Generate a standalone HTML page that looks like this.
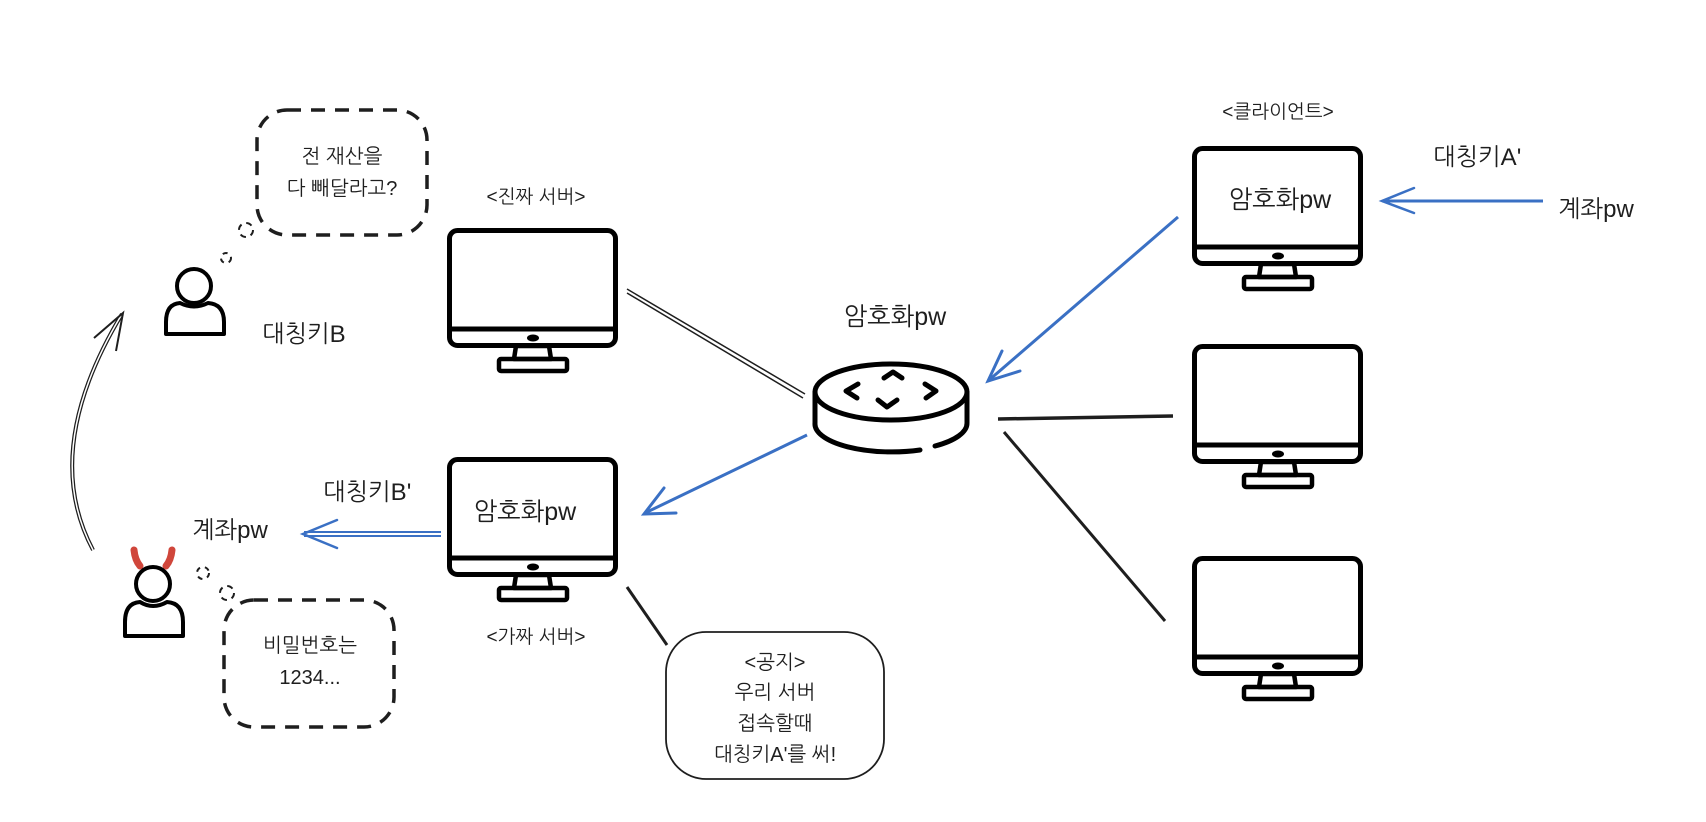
<!DOCTYPE html>
<html><head><meta charset="utf-8"><style>
html,body{margin:0;padding:0;background:#fff;}
svg{display:block;}
text{font-family:"Liberation Sans","NanumGothic","Noto Sans CJK KR",sans-serif;fill:#1e1e1e;}
</style></head><body>
<svg width="1706" height="822" viewBox="0 0 1706 822" xmlns="http://www.w3.org/2000/svg">
<defs>
<g id="mon">
  <rect x="2.5" y="2.5" width="166" height="115" rx="8" fill="#fff" stroke="#000" stroke-width="5"/>
  <line x1="2.5" y1="101" x2="168.5" y2="101" stroke="#000" stroke-width="5"/>
  <ellipse cx="86" cy="110" rx="6" ry="3.5" fill="#000"/>
  <path d="M69 118 L102 118 L104 131 L67 131 Z" fill="none" stroke="#000" stroke-width="4.5" stroke-linejoin="round"/>
  <rect x="52" y="131" width="68" height="12" rx="2" fill="none" stroke="#000" stroke-width="4.5"/>
</g>
</defs>

<rect x="257" y="110" width="170" height="125" rx="30" fill="none" stroke="#1e1e1e" stroke-width="3.5" stroke-dasharray="14 10"/>
<text x="342" y="163" font-size="20" text-anchor="middle">전 재산을</text>
<text x="342" y="195" font-size="20" text-anchor="middle">다 빼달라고?</text>
<circle cx="246" cy="230" r="7" fill="none" stroke="#1e1e1e" stroke-width="2" stroke-dasharray="6 5"/>
<circle cx="226" cy="258" r="5" fill="none" stroke="#1e1e1e" stroke-width="2" stroke-dasharray="5 5"/>

<circle cx="194" cy="286" r="17" fill="#fff" stroke="#000" stroke-width="4"/>
<path d="M166 334 L166 322 Q166 304 180 303 Q194 310 208 303 Q224 304 224 322 L224 334 Z" fill="none" stroke="#000" stroke-width="4" stroke-linejoin="round"/>
<text x="262" y="342" font-size="24">대칭키B</text>

<path d="M93 550 Q40 450 122 314" fill="none" stroke="#1e1e1e" stroke-width="4"/>
<path d="M93 550 Q40 450 122 314" fill="none" stroke="#fff" stroke-width="1.5"/>
<path d="M94 338 L123 313 L116 351" fill="none" stroke="#1e1e1e" stroke-width="2"/>

<path d="M134 550 Q135 560 140 566" stroke="#d0463b" stroke-width="7" fill="none" stroke-linecap="round"/>
<path d="M172 550 Q171 560 166 566" stroke="#d0463b" stroke-width="7" fill="none" stroke-linecap="round"/>
<circle cx="153" cy="584" r="17" fill="#fff" stroke="#000" stroke-width="4"/>
<path d="M125 636 L125 622 Q125 603 140 602 Q153 610 167 602 Q183 603 183 622 L183 636 Z" fill="none" stroke="#000" stroke-width="4" stroke-linejoin="round"/>
<circle cx="203" cy="573" r="6" fill="none" stroke="#1e1e1e" stroke-width="2" stroke-dasharray="5 5"/>
<circle cx="227" cy="593" r="7" fill="none" stroke="#1e1e1e" stroke-width="2" stroke-dasharray="6 5"/>

<rect x="224" y="600" width="170" height="127" rx="30" fill="none" stroke="#1e1e1e" stroke-width="3.5" stroke-dasharray="14 10"/>
<text x="310" y="652" font-size="20" text-anchor="middle">비밀번호는</text>
<text x="310" y="684" font-size="20" text-anchor="middle">1234...</text>

<text x="323" y="500" font-size="24">대칭키B'</text>
<text x="192" y="538" font-size="24">계좌pw</text>
<line x1="441" y1="532" x2="304" y2="532" stroke="#3a70c4" stroke-width="2"/>
<line x1="441" y1="536" x2="304" y2="536" stroke="#3a70c4" stroke-width="2"/>
<path d="M337 520 L303 534 L337 548" fill="none" stroke="#3a70c4" stroke-width="2.5" stroke-linecap="round"/>

<text x="536" y="203" font-size="19" text-anchor="middle">&lt;진짜 서버&gt;</text>
<use href="#mon" x="447" y="228"/>
<use href="#mon" x="447" y="457"/>
<text x="525" y="520" font-size="25" text-anchor="middle">암호화pw</text>
<text x="536" y="643" font-size="19" text-anchor="middle">&lt;가짜 서버&gt;</text>

<line x1="627" y1="587" x2="667" y2="645" stroke="#1e1e1e" stroke-width="3"/>
<rect x="666" y="632" width="218" height="147" rx="40" fill="none" stroke="#1e1e1e" stroke-width="1.8"/>
<text x="775" y="669" font-size="20" text-anchor="middle">&lt;공지&gt;</text>
<text x="775" y="699" font-size="20" text-anchor="middle">우리 서버</text>
<text x="775" y="730" font-size="20" text-anchor="middle">접속할때</text>
<text x="775" y="761" font-size="20" text-anchor="middle">대칭키A'를 써!</text>

<line x1="627" y1="289" x2="805" y2="394" stroke="#1e1e1e" stroke-width="1.5"/>
<line x1="627" y1="293" x2="803" y2="398" stroke="#1e1e1e" stroke-width="1.5"/>

<text x="895" y="325" font-size="25" text-anchor="middle">암호화pw</text>
<path d="M815 392 L815 423 A77 28 0 0 0 920 450" fill="none" stroke="#000" stroke-width="5" stroke-linecap="round"/>
<path d="M935 446 A77 28 0 0 0 967 423 L967 392" fill="none" stroke="#000" stroke-width="5" stroke-linecap="round"/>
<ellipse cx="891" cy="392" rx="76" ry="28" fill="#fff" stroke="#000" stroke-width="5"/>
<path d="M858 384 L846 391 L857 398" fill="none" stroke="#000" stroke-width="5" stroke-linejoin="round" stroke-linecap="round"/>
<path d="M925 384 L936 391 L926 398" fill="none" stroke="#000" stroke-width="5" stroke-linejoin="round" stroke-linecap="round"/>
<path d="M884 378 L893 372 L902 378" fill="none" stroke="#000" stroke-width="5" stroke-linejoin="round" stroke-linecap="round"/>
<path d="M878 400 L887 407 L897 400" fill="none" stroke="#000" stroke-width="5" stroke-linejoin="round" stroke-linecap="round"/>

<line x1="807" y1="435" x2="645" y2="513" stroke="#3a70c4" stroke-width="3"/>
<path d="M664 488 L644 514 L676 513" fill="none" stroke="#3a70c4" stroke-width="3" stroke-linecap="round"/>
<line x1="1178" y1="217" x2="988" y2="381" stroke="#3a70c4" stroke-width="3"/>
<path d="M1002 351 L988 381 L1020 371" fill="none" stroke="#3a70c4" stroke-width="3" stroke-linecap="round"/>

<line x1="998" y1="419" x2="1173" y2="416" stroke="#1e1e1e" stroke-width="3.5"/>
<line x1="1004" y1="432" x2="1165" y2="621" stroke="#1e1e1e" stroke-width="3"/>

<text x="1278" y="118" font-size="19" text-anchor="middle">&lt;클라이언트&gt;</text>
<use href="#mon" x="1192" y="146"/>
<text x="1280" y="208" font-size="25" text-anchor="middle">암호화pw</text>
<use href="#mon" x="1192" y="344"/>
<use href="#mon" x="1192" y="556"/>

<text x="1433" y="165" font-size="24">대칭키A'</text>
<text x="1558" y="217" font-size="24">계좌pw</text>
<line x1="1543" y1="201" x2="1382" y2="201" stroke="#3a70c4" stroke-width="3"/>
<path d="M1414 188 L1382 201 L1414 213" fill="none" stroke="#3a70c4" stroke-width="2.5" stroke-linecap="round"/>
</svg>
</body></html>
